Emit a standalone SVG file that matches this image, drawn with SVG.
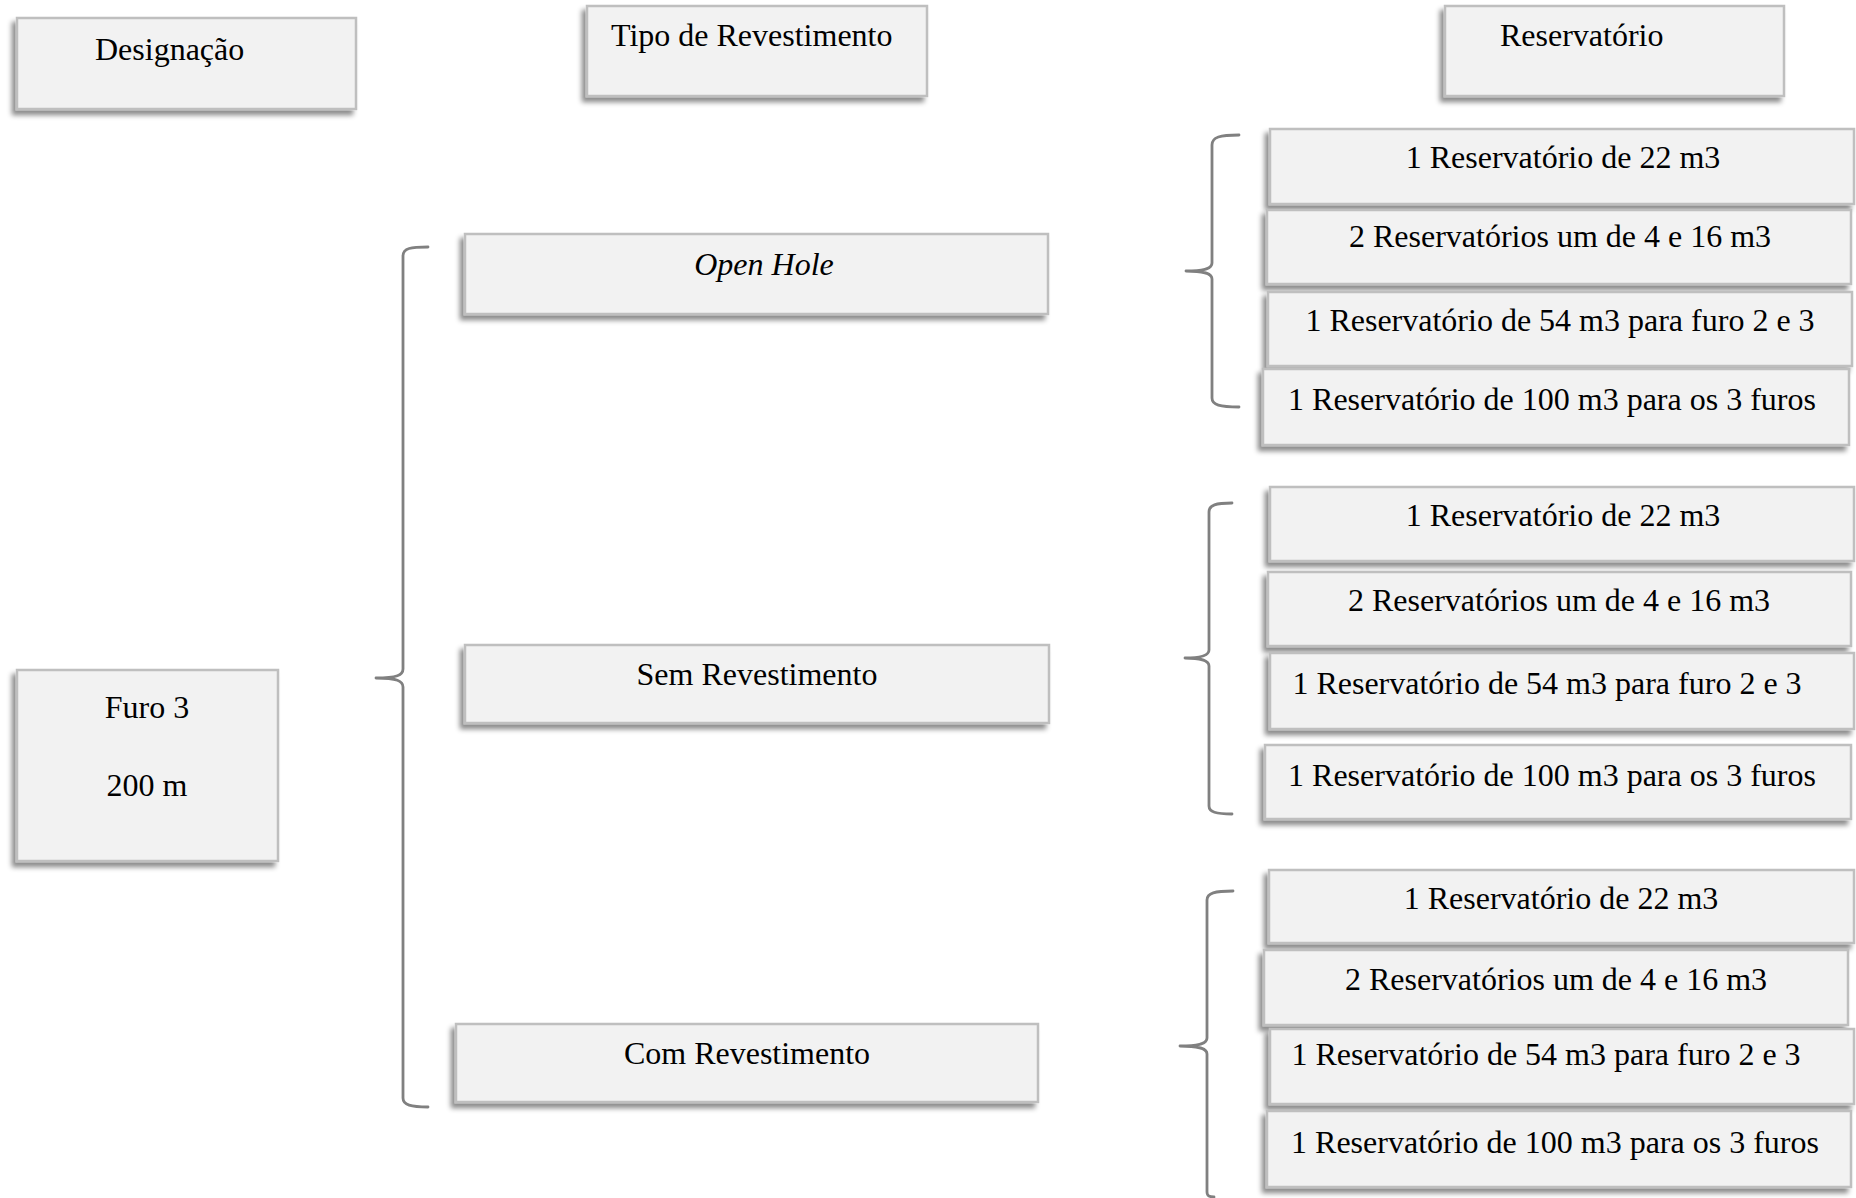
<svg xmlns="http://www.w3.org/2000/svg" width="1856" height="1198" viewBox="0 0 1856 1198">
  <defs>
    <filter id="shadow" x="-10%" y="-20%" width="120%" height="150%">
      <feDropShadow dx="-4" dy="5" stdDeviation="2.5" flood-color="#000" flood-opacity="0.45"/>
    </filter>
  </defs>
  <style>
    .box { fill: #f2f2f2; stroke: #bfbfbf; stroke-width: 2.5; filter: url(#shadow); }
    .t { font-family: "Liberation Serif", "Times New Roman", serif; font-size: 32px; fill: #000; }
    .c { text-anchor: middle; }
    .i { font-style: italic; }
    .brace { fill: none; stroke: #808080; stroke-width: 2.8; stroke-linecap: round; stroke-linejoin: round; }
  </style>

  <rect width="1856" height="1198" fill="#ffffff"/>

  <!-- column headers -->
  <g id="hdr-designacao">
    <rect class="box" x="17" y="18" width="339" height="91"/>
    <text class="t" x="95" y="60">Designação</text>
  </g>
  <g id="hdr-tipo">
    <rect class="box" x="587" y="6" width="340" height="90"/>
    <text class="t" x="611" y="46">Tipo de Revestimento</text>
  </g>
  <g id="hdr-reservatorio">
    <rect class="box" x="1445" y="6" width="339" height="90"/>
    <text class="t" x="1500" y="46">Reservatório</text>
  </g>

  <!-- borehole -->
  <g id="furo3">
    <rect class="box" x="17" y="670" width="261" height="191"/>
    <text class="t c" x="147" y="718">Furo 3</text>
    <text class="t c" x="147" y="796">200 m</text>
  </g>

  <!-- casing types -->
  <g id="open-hole">
    <rect class="box" x="465" y="234" width="583" height="80"/>
    <text class="t c i" x="764" y="275">Open Hole</text>
  </g>
  <g id="sem-revestimento">
    <rect class="box" x="465" y="645" width="584" height="78"/>
    <text class="t c" x="757" y="685">Sem Revestimento</text>
  </g>
  <g id="com-revestimento">
    <rect class="box" x="456" y="1024" width="582" height="78"/>
    <text class="t c" x="747" y="1064">Com Revestimento</text>
  </g>

  <!-- reservoir options, Open Hole -->
  <g id="oh-r1">
    <rect class="box" x="1270" y="129" width="584" height="75"/>
    <text class="t c" x="1563" y="168">1 Reservatório de 22 m3</text>
  </g>
  <g id="oh-r2">
    <rect class="box" x="1267" y="210" width="584" height="74"/>
    <text class="t c" x="1560" y="247">2 Reservatórios um de 4 e 16 m3</text>
  </g>
  <g id="oh-r3">
    <rect class="box" x="1268" y="292" width="584" height="74"/>
    <text class="t c" x="1560" y="331">1 Reservatório de 54 m3 para furo 2 e 3</text>
  </g>
  <g id="oh-r4">
    <rect class="box" x="1263" y="369" width="586" height="76"/>
    <text class="t c" x="1552" y="410">1 Reservatório de 100 m3 para os 3 furos</text>
  </g>

  <!-- reservoir options, Sem Revestimento -->
  <g id="sr-r1">
    <rect class="box" x="1270" y="487" width="584" height="74"/>
    <text class="t c" x="1563" y="526">1 Reservatório de 22 m3</text>
  </g>
  <g id="sr-r2">
    <rect class="box" x="1268" y="572" width="583" height="74"/>
    <text class="t c" x="1559" y="611">2 Reservatórios um de 4 e 16 m3</text>
  </g>
  <g id="sr-r3">
    <rect class="box" x="1270" y="653" width="584" height="76"/>
    <text class="t c" x="1547" y="694">1 Reservatório de 54 m3 para furo 2 e 3</text>
  </g>
  <g id="sr-r4">
    <rect class="box" x="1265" y="745" width="586" height="74"/>
    <text class="t c" x="1552" y="786">1 Reservatório de 100 m3 para os 3 furos</text>
  </g>

  <!-- reservoir options, Com Revestimento -->
  <g id="cr-r1">
    <rect class="box" x="1269" y="870" width="585" height="73"/>
    <text class="t c" x="1561" y="909">1 Reservatório de 22 m3</text>
  </g>
  <g id="cr-r2">
    <rect class="box" x="1264" y="950" width="584" height="75"/>
    <text class="t c" x="1556" y="990">2 Reservatórios um de 4 e 16 m3</text>
  </g>
  <g id="cr-r3">
    <rect class="box" x="1270" y="1029" width="584" height="75"/>
    <text class="t c" x="1546" y="1065">1 Reservatório de 54 m3 para furo 2 e 3</text>
  </g>
  <g id="cr-r4">
    <rect class="box" x="1267" y="1111" width="584" height="76"/>
    <text class="t c" x="1555" y="1153">1 Reservatório de 100 m3 para os 3 furos</text>
  </g>

  <!-- curly braces grouping the branches -->
  <g id="connectors">
    <path class="brace" d="M428 247 C411 247 403 248 403 256 L403 669 C403 675 397 678 376 678 C397 678 403 681 403 687 L403 1098 C403 1105 411 1107 428 1107"/>
    <path class="brace" d="M1239 135 C1220 135 1212 137 1212 145 L1212 263 C1212 268 1206 271 1186 271 C1206 271 1212 274 1212 279 L1212 398 C1212 405 1220 407 1239 407"/>
    <path class="brace" d="M1232 503 C1216 503 1209 505 1209 512 L1209 650 C1209 655 1203 658 1185 658 C1203 658 1209 661 1209 666 L1209 806 C1209 812 1216 814 1232 814"/>
    <path class="brace" d="M1233 891 C1215 891 1207 893 1207 900 L1207 1038 C1207 1043 1201 1046 1180 1046 C1201 1046 1207 1049 1207 1054 L1207 1192 C1207 1196 1209 1197 1214 1197"/>
  </g>
</svg>
